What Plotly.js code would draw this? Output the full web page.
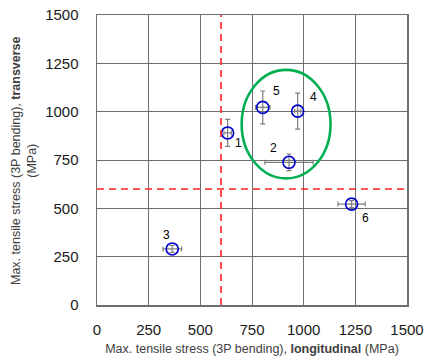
<!DOCTYPE html>
<html><head><meta charset="utf-8">
<script src="https://cdn.plot.ly/plotly-3.0.1.min.js"></script>
<style>html,body{margin:0;padding:0;background:#fff}#chart{width:427px;height:358px}</style>
</head><body><div id="chart"></div>
<script>
const labels = ['1','2','3','4','5','6'];
const longitudinal = [632, 929, 364, 971, 802, 1232];
const transverse = [890, 738, 290, 1003, 1022, 522];
const errLong = [18, 117, 45, 15, 35, 66];
const errTrans = [70, 43, 18, 93, 85, 18];
const labelShiftX = [11, -15, -6, 16, 14, 14];
const labelShiftY = [-10, 14, 14, 14, 16, -14];
const thresholdLong = 600;
const thresholdTrans = 600;
const ellipseX = [700, 1130];
const ellipseY = [655, 1216];
const tickVals = [0, 250, 500, 750, 1000, 1250, 1500];

const font = "'Liberation Sans', Arial, sans-serif";

const trace = {
  x: longitudinal, y: transverse, type: 'scatter', mode: 'markers',
  marker: {symbol: 'circle-open', size: 12, color: '#0000CC', line: {width: 1.6, color: '#0000CC'}},
  error_x: {type: 'data', array: errLong, color: '#7f7f7f', thickness: 1.2, width: 2.5},
  error_y: {type: 'data', array: errTrans, color: '#7f7f7f', thickness: 1.2, width: 2.5},
  hoverinfo: 'x+y', showlegend: false
};

const annotations = labels.map((t, i) => ({
  x: longitudinal[i], y: transverse[i], xref: 'x', yref: 'y', text: t,
  showarrow: false, xshift: labelShiftX[i], yshift: labelShiftY[i],
  font: {family: font, size: 12, color: '#000'}
}));
annotations.push({
  xref: 'paper', yref: 'paper', x: -0.2355, y: 0.5, xanchor: 'center', yanchor: 'middle',
  textangle: -90, showarrow: false,
  text: 'Max. tensile stress (3P bending), <b>transverse</b><br>(MPa)',
  font: {family: font, size: 12.5, color: '#404040'}, align: 'center'
});

const axisCommon = {
  range: [0, 1500], tickvals: tickVals, ticktext: tickVals.map(String),
  showgrid: true, gridcolor: '#6f6f6f', gridwidth: 1,
  showline: true, linecolor: '#6f6f6f', linewidth: 1.5, mirror: true,
  zeroline: false, ticks: '', fixedrange: true,
  tickfont: {family: font, size: 15, color: '#1a1a1a'}
};

const layout = {
  width: 427, height: 358,
  margin: {l: 97, r: 20, t: 15, b: 53},
  paper_bgcolor: '#fff', plot_bgcolor: '#fff',
  xaxis: Object.assign({}, axisCommon, {
    ticklabelstandoff: 10,
    title: {text: 'Max. tensile stress (3P bending), <b>longitudinal</b> (MPa)',
      font: {family: font, size: 12.5, color: '#404040'}, standoff: 7}
  }),
  yaxis: Object.assign({}, axisCommon, {ticklabelstandoff: 14}),
  shapes: [
    {type: 'line', xref: 'x', yref: 'y', x0: thresholdLong, x1: thresholdLong, y0: 0, y1: 1500,
      line: {color: '#FF2020', width: 1.6, dash: '7px,5px'}},
    {type: 'line', xref: 'x', yref: 'y', x0: 0, x1: 1500, y0: thresholdTrans, y1: thresholdTrans,
      line: {color: '#FF2020', width: 1.6, dash: '7px,5px'}},
    {type: 'circle', xref: 'x', yref: 'y', x0: ellipseX[0], x1: ellipseX[1], y0: ellipseY[0], y1: ellipseY[1],
      line: {color: '#00B050', width: 2.6}}
  ],
  annotations: annotations
};

Plotly.newPlot('chart', [trace], layout, {displayModeBar: false, staticPlot: true});
</script></body></html>
